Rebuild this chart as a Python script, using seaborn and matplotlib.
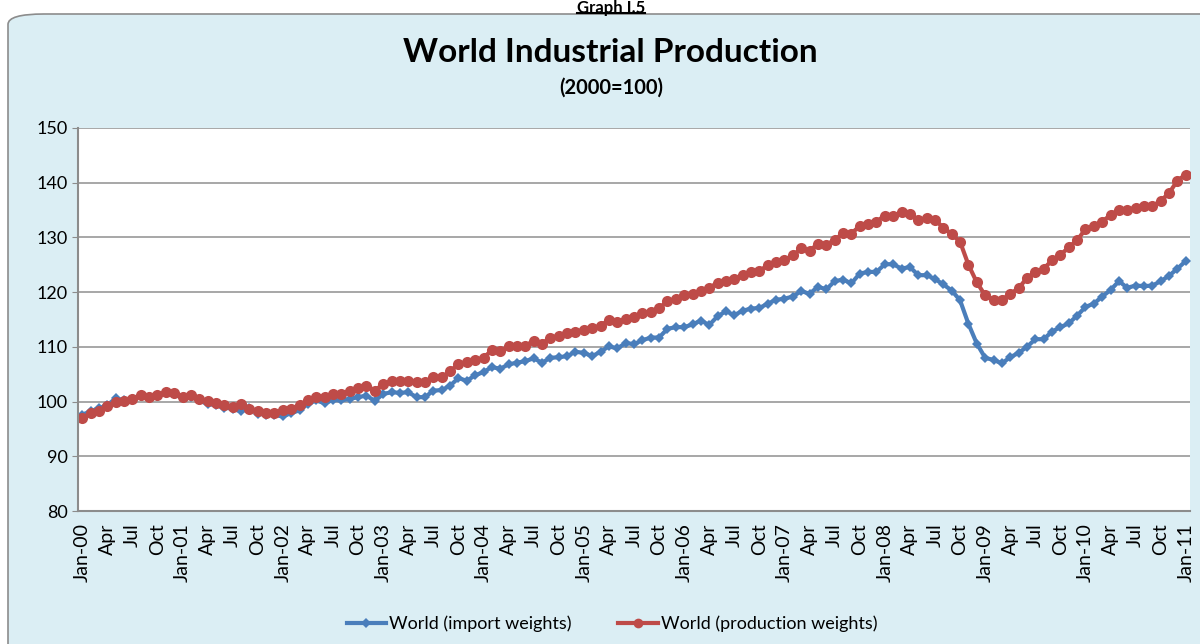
import numpy as np
import pandas as pd
import matplotlib
matplotlib.use("Agg")
import matplotlib.pyplot as plt
from matplotlib.patches import FancyBboxPatch
from matplotlib.lines import Line2D
import seaborn as sns

# Monthly index values, Jan-00 .. Jan-11
import_weights = [
    97.6, 98.2, 98.8, 99.3, 100.6, 100.2, 100.5, 101.0, 100.8, 101.1, 101.5, 101.4,
    100.6, 100.9, 100.2, 99.6, 99.3, 98.9, 98.7, 98.2, 98.8, 97.8, 97.6, 97.5,
    97.3, 97.9, 98.4, 99.6, 100.2, 99.7, 100.3, 100.2, 100.5, 100.8, 101.1, 100.1,
    101.4, 101.7, 101.6, 101.7, 100.8, 100.8, 102.0, 102.1, 102.9, 104.3, 103.8, 104.8,
    105.4, 106.3, 106.0, 106.8, 107.1, 107.4, 107.9, 107.1, 108.0, 108.1, 108.3, 109.1,
    108.9, 108.3, 109.1, 110.1, 109.7, 110.7, 110.5, 111.2, 111.7, 111.7, 113.3, 113.6,
    113.6, 114.1, 114.8, 114.0, 115.6, 116.5, 115.8, 116.6, 117.0, 117.1, 117.9, 118.6,
    118.8, 119.2, 120.2, 119.7, 121.0, 120.5, 122.0, 122.3, 121.6, 123.4, 123.7, 123.7,
    125.1, 125.1, 124.3, 124.6, 123.1, 123.1, 122.4, 121.4, 120.3, 118.5, 114.2, 110.6,
    108.0, 107.6, 107.0, 108.1, 108.9, 110.0, 111.4, 111.4, 112.8, 113.6, 114.3, 115.7,
    117.3, 117.9, 119.2, 120.4, 122.0, 120.8, 121.2, 121.1, 121.2, 122.0, 123.0, 124.3, 125.7,
]
production_weights = [
    97.0, 97.9, 98.3, 99.1, 99.9, 100.1, 100.4, 101.2, 100.8, 101.2, 101.7, 101.6,
    100.9, 101.2, 100.5, 100.1, 99.8, 99.3, 99.0, 99.5, 98.6, 98.3, 98.0, 98.0,
    98.4, 98.7, 99.3, 100.3, 100.9, 100.8, 101.3, 101.4, 102.0, 102.4, 102.9, 102.0,
    103.2, 103.7, 103.7, 103.7, 103.5, 103.6, 104.4, 104.4, 105.5, 106.9, 107.2, 107.6,
    108.0, 109.4, 109.2, 110.1, 110.2, 110.2, 111.1, 110.6, 111.7, 112.0, 112.5, 112.8,
    113.1, 113.4, 113.9, 114.9, 114.6, 115.1, 115.5, 116.1, 116.4, 117.1, 118.3, 118.8,
    119.4, 119.7, 120.2, 120.8, 121.7, 122.0, 122.4, 123.2, 123.6, 123.9, 124.9, 125.6,
    125.9, 126.7, 128.0, 127.6, 128.8, 128.7, 129.5, 130.8, 130.7, 132.1, 132.4, 132.9,
    134.0, 133.9, 134.6, 134.3, 133.2, 133.5, 133.2, 131.8, 130.6, 129.2, 125.0, 121.8,
    119.4, 118.6, 118.6, 119.7, 120.7, 122.6, 123.7, 124.3, 125.8, 126.8, 128.2, 129.5,
    131.5, 132.1, 132.9, 134.1, 135.1, 135.1, 135.4, 135.7, 135.7, 136.7, 138.1, 140.4, 141.5,
]

series_names = ["World (import weights)", "World (production weights)"]
colors = ["#4A7EBB", "#BE4B48"]

months = pd.date_range("2000-01-01", "2011-01-01", freq="MS")
tick_labels = [d.strftime("%b-%y") if d.month == 1 else d.strftime("%b") for d in months[::3]]

df = pd.DataFrame({
    "idx": np.concatenate([np.arange(len(months))] * 2),
    "value": import_weights + production_weights,
    "series": [series_names[0]] * len(months) + [series_names[1]] * len(months),
})

plt.rcParams["font.family"] = ["Lato", "DejaVu Sans"]

fig = plt.figure(figsize=(12, 6.44), dpi=100)
fig.patch.set_facecolor("white")

# rounded light-blue panel behind the chart
panel = FancyBboxPatch((8 / 1200, -0.05), 1.05, (644 - 14) / 644 + 0.05,
                       boxstyle="round,pad=0,rounding_size=0.03",
                       transform=fig.transFigure, facecolor="#DBEEF4",
                       edgecolor="#8C8C8C", linewidth=1.2, mutation_aspect=644 / 1200,
                       zorder=-5)
fig.patches.append(panel)

# underlined header above the panel
hdr = fig.text(0.509, 1 - 0.5 / 644, "Graph I.5", ha="center", va="top", fontsize=12,
               fontweight="bold")
bb = hdr.get_window_extent(renderer=fig.canvas.get_renderer())
fig.add_artist(Line2D([bb.x0 / 1200, bb.x1 / 1200], [1 - 12.5 / 644] * 2,
                      color="black", lw=1.5))

fig.text(0.509, 1 - 52 / 644, "World Industrial Production", ha="center", va="center",
         fontsize=24, fontweight="bold")
fig.text(0.509, 1 - 88 / 644, "(2000=100)", ha="center", va="center",
         fontsize=14.5, fontweight="bold")

ax = fig.add_axes([78 / 1200, 1 - 511 / 644, (1190 - 78) / 1200, (511 - 128) / 644])
ax.set_facecolor("white")

sns.lineplot(data=df, x="idx", y="value", hue="series", style="series",
             hue_order=series_names, palette=colors,
             markers={series_names[0]: "D", series_names[1]: "o"},
             dashes=False, linewidth=3, markersize=6.5, markeredgewidth=0,
             ax=ax, legend=False)
lines = ax.get_lines()
lines[0].set_markersize(5.5)
lines[1].set_markersize(8)

ax.set_xlim(-0.5, len(months) - 0.5)
ax.set_ylim(80, 150)
ax.set_yticks(range(80, 151, 10))
ax.set_xticks(np.arange(0, len(months), 3))
ax.set_xticklabels(tick_labels, rotation=90, fontsize=14)
ax.tick_params(axis="y", labelsize=13, length=4, color="#8C8C8C")
ax.tick_params(axis="x", length=0, pad=9)
ax.yaxis.grid(True, color="#A0A0A0", linewidth=1.3)
ax.set_axisbelow(True)
for side in ["top", "right"]:
    ax.spines[side].set_visible(False)
for side in ["left", "bottom"]:
    ax.spines[side].set_color("#8C8C8C")
    ax.spines[side].set_linewidth(1.5)
ax.set_xlabel("")
ax.set_ylabel("")

handles = [
    Line2D([], [], color=colors[0], lw=3, marker="D", markersize=5.5, markeredgewidth=0),
    Line2D([], [], color=colors[1], lw=3, marker="o", markersize=7, markeredgewidth=0),
]
fig.legend(handles, series_names, loc="center", bbox_to_anchor=(0.51, 1 - 624 / 644),
           ncol=2, frameon=False, fontsize=13, handlelength=2.2, handletextpad=0.15,
           columnspacing=2.6)

fig.savefig("out.png", dpi=100)
